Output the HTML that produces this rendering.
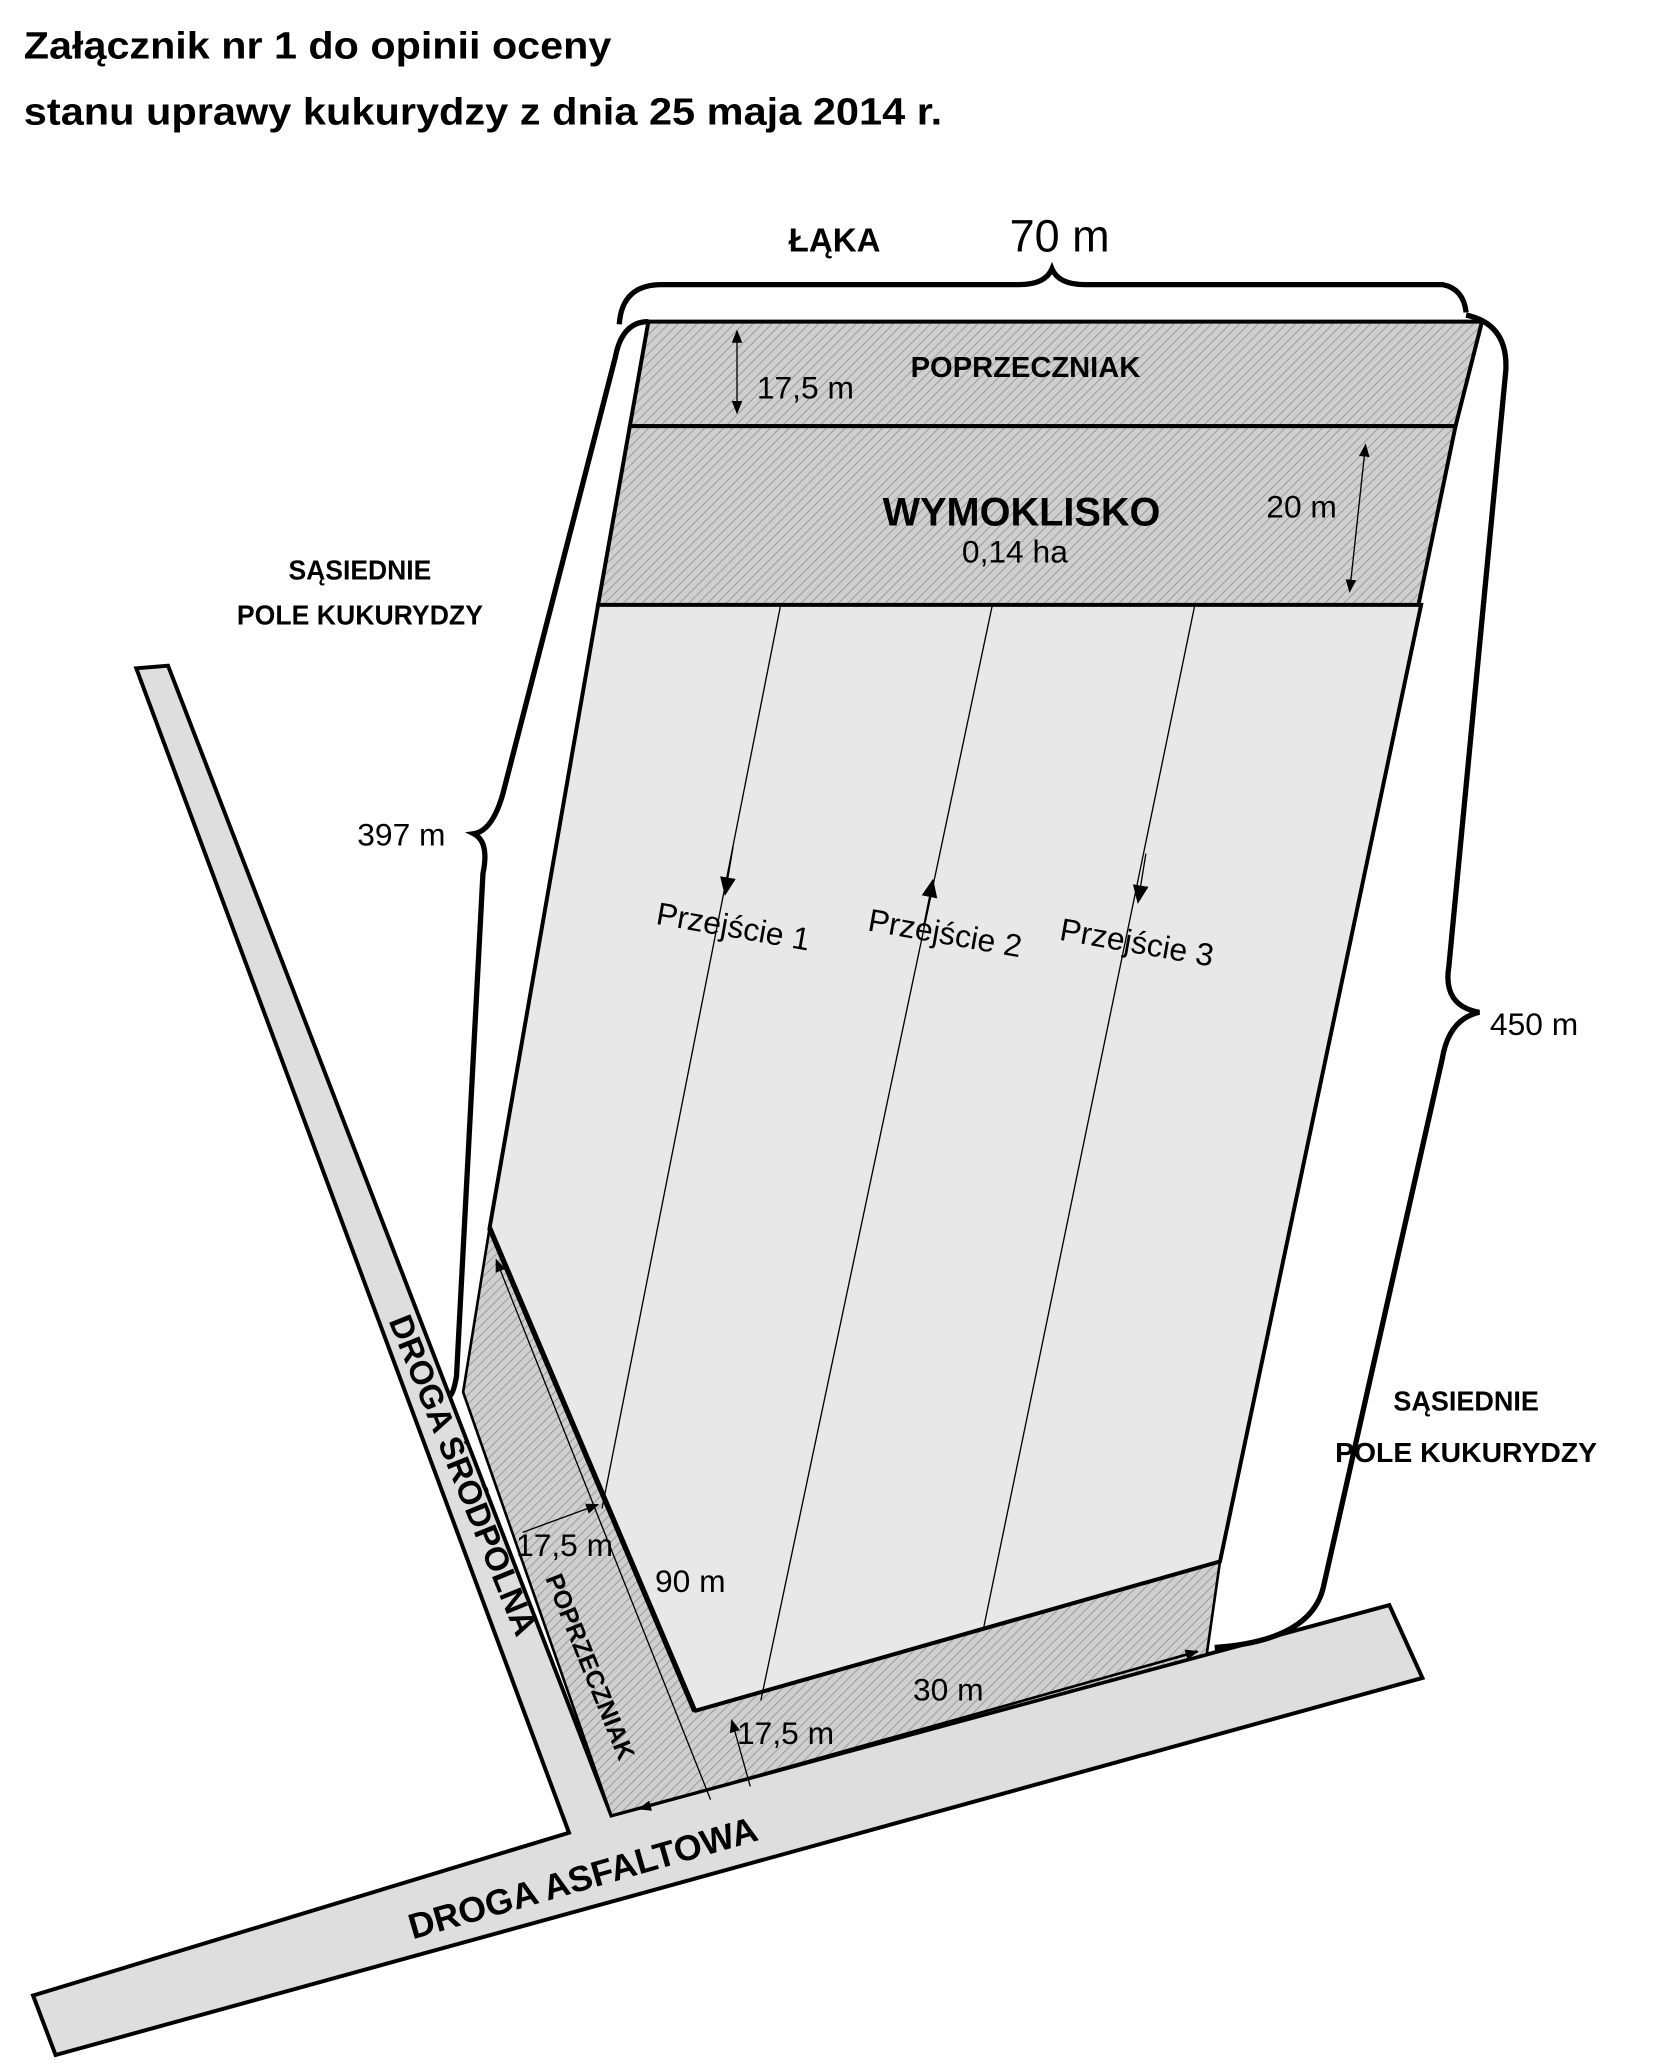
<!DOCTYPE html>
<html><head><meta charset="utf-8"><style>html,body{margin:0;padding:0;background:#fff}svg{display:block}</style></head>
<body>
<svg width="1654" height="2071" viewBox="0 0 1250 1565" xmlns="http://www.w3.org/2000/svg" font-family="Liberation Sans, sans-serif">
<defs>
<pattern id="h" width="5" height="5" patternUnits="userSpaceOnUse" patternTransform="rotate(45)">
<rect width="5" height="5" fill="#cfcfcf"/><line x1="0" y1="0" x2="0" y2="5" stroke="#9a9a9a" stroke-width="1.5"/></pattern>
<marker id="a" markerWidth="10" markerHeight="8" refX="9" refY="4" orient="auto-start-reverse" markerUnits="userSpaceOnUse"><path d="M0,0 L10,4 L0,8z" fill="#000"/></marker>
<marker id="b" markerWidth="14" markerHeight="26" refX="13" refY="6" orient="auto" markerUnits="userSpaceOnUse"><path d="M0,0 L14,6 L0,12z" fill="#000"/></marker>
</defs>
<text x="18" y="44" font-size="29" font-weight="bold" textLength="444" lengthAdjust="spacingAndGlyphs">Załącznik nr 1 do opinii oceny</text>
<text x="18" y="94" font-size="29" font-weight="bold" textLength="694" lengthAdjust="spacingAndGlyphs">stanu uprawy kukurydzy z dnia 25 maja 2014 r.</text>
<text x="596" y="190" font-size="25" font-weight="bold">ŁĄKA</text>
<text x="763" y="190" font-size="34">70 m</text>

<polygon points="103,505 127,503 462,1372 1050,1213 1075,1268 42,1553 25,1508 430,1385" fill="#dedede" stroke="#000" stroke-width="3"/>

<polygon points="452,457 1074,457 922,1180 525,1293 370,928" fill="#e8e8e8" stroke="#000" stroke-width="3"/>
<polygon points="490,243 1120,243 1100,322 476,322" fill="url(#h)" stroke="#000" stroke-width="3"/>
<polygon points="476,322 1100,322 1072,457 452,457" fill="url(#h)" stroke="#000" stroke-width="3"/>
<polygon points="370,928 525,1293 922,1180 912,1250 462,1372 350,1052" fill="url(#h)" stroke="#000" stroke-width="2"/>
<line x1="370" y1="928" x2="525" y2="1293" stroke="#000" stroke-width="4"/>
<line x1="525" y1="1293" x2="922" y2="1180" stroke="#000" stroke-width="3"/>

<path d="M468,245 Q470,215 500,215 L770,215 Q790,215 795,203 Q800,215 820,215 L1090,215 Q1106,218 1108,236" fill="none" stroke="#000" stroke-width="4"/>
<path d="M490,243 Q470,243 465,270 L380,600 Q372,628 358,630 Q370,636 365,660 L345,1040 Q343,1052 340,1055" fill="none" stroke="#000" stroke-width="4"/>
<path d="M1108,238 Q1140,245 1138,280 L1095,730 Q1090,760 1118,765 Q1095,770 1090,800 L1000,1200 Q990,1240 918,1245" fill="none" stroke="#000" stroke-width="4"/>

<line x1="590" y1="457" x2="455" y2="1140" stroke="#000" stroke-width="1"/>
<line x1="750" y1="457" x2="575" y2="1285" stroke="#000" stroke-width="1"/>
<line x1="903" y1="457" x2="743" y2="1232" stroke="#000" stroke-width="1"/>
<line x1="554" y1="640" x2="548" y2="676" stroke="#000" marker-end="url(#b)"/>
<line x1="698" y1="700" x2="705" y2="665" stroke="#000" marker-end="url(#b)"/>
<line x1="866" y1="645" x2="860" y2="682" stroke="#000" marker-end="url(#b)"/>
<text font-size="24" transform="translate(495,698) rotate(10)">Przejście 1</text>
<text font-size="24" transform="translate(655,703) rotate(10)">Przejście 2</text>
<text font-size="24" transform="translate(800,710) rotate(10)">Przejście 3</text>

<line x1="557" y1="250" x2="557" y2="312" stroke="#000" marker-end="url(#a)" marker-start="url(#a)"/>
<text x="572" y="301" font-size="24">17,5 m</text>
<text x="775" y="285" font-size="22" font-weight="bold" text-anchor="middle">POPRZECZNIAK</text>
<line x1="1032" y1="336" x2="1020" y2="447" stroke="#000" marker-end="url(#a)" marker-start="url(#a)"/>
<text x="957" y="391" font-size="24">20 m</text>
<text x="772" y="397" font-size="30" font-weight="bold" text-anchor="middle">WYMOKLISKO</text>
<text x="767" y="425" font-size="24" text-anchor="middle">0,14 ha</text>
<text x="272" y="438" font-size="21" font-weight="bold" text-anchor="middle" textLength="108" lengthAdjust="spacingAndGlyphs">SĄSIEDNIE</text>
<text x="272" y="472" font-size="21" font-weight="bold" text-anchor="middle" textLength="186" lengthAdjust="spacingAndGlyphs">POLE KUKURYDZY</text>
<text x="1108" y="1066" font-size="21" font-weight="bold" text-anchor="middle" textLength="110" lengthAdjust="spacingAndGlyphs">SĄSIEDNIE</text>
<text x="1108" y="1105" font-size="21" font-weight="bold" text-anchor="middle" textLength="198" lengthAdjust="spacingAndGlyphs">POLE KUKURYDZY</text>
<text x="270" y="639" font-size="24">397 m</text>
<text x="1126" y="782" font-size="24">450 m</text>
<line x1="537" y1="1360" x2="375" y2="952" stroke="#000" marker-end="url(#a)"/>
<text x="495" y="1203" font-size="24">90 m</text>
<line x1="395" y1="1158" x2="452" y2="1137" stroke="#000" marker-end="url(#a)"/>
<text x="390" y="1176" font-size="24">17,5 m</text>
<line x1="483" y1="1367" x2="905" y2="1248" stroke="#000" stroke-width="2" marker-end="url(#a)" marker-start="url(#a)"/>
<text x="690" y="1285" font-size="24">30 m</text>
<line x1="567" y1="1350" x2="553" y2="1300" stroke="#000" marker-end="url(#a)"/>
<text x="557" y="1318" font-size="24">17,5 m</text>

<text font-size="25" font-weight="bold" text-anchor="middle" transform="translate(342,1118) rotate(68)">DROGA ŚRÓDPOLNA</text>
<text font-size="19" font-weight="bold" text-anchor="middle" transform="translate(440,1262) rotate(68)">POPRZECZNIAK</text>
<text font-size="27" font-weight="bold" text-anchor="middle" transform="translate(443,1428) rotate(-16)">DROGA ASFALTOWA</text>
</svg>
</body></html>
